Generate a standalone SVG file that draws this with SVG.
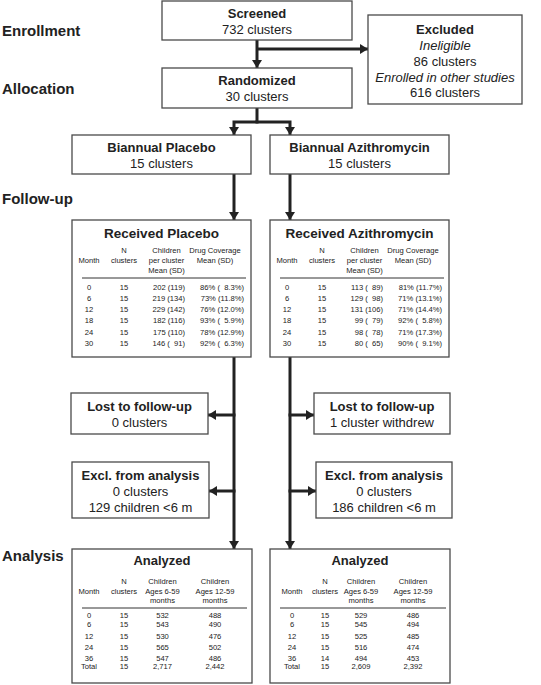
<svg xmlns="http://www.w3.org/2000/svg" width="541" height="685" viewBox="0 0 541 685">
<defs>
<marker id="ah" viewBox="0 0 8 10" refX="8" refY="5" markerWidth="8" markerHeight="10" markerUnits="userSpaceOnUse" orient="auto"><path d="M0,0 L8,5 L0,10 z" fill="#222"/></marker>
<style>
.box{fill:#fff;stroke:#4a4a4a;stroke-width:1.3}
.c{fill:none;stroke:#222;stroke-width:3;marker-end:url(#ah)}
.rule{stroke:#333;stroke-width:1}
text{font-family:"Liberation Sans",Arial,Helvetica,sans-serif;fill:#222}
.st{font-size:15px;font-weight:bold}
.h{font-size:13px;font-weight:bold;text-anchor:middle}
.n{font-size:13px;text-anchor:middle}
.i{font-style:italic}
.t{font-size:7.6px;text-anchor:middle}
.r{text-anchor:end;white-space:pre}
</style>
</defs>
<g id="stages">
<text class="st" x="2" y="36">Enrollment</text>
<text class="st" x="2" y="94">Allocation</text>
<text class="st" x="2" y="203.5">Follow-up</text>
<text class="st" x="2" y="561">Analysis</text>
</g>
<g id="connectors">
<path class="c" d="M257,40 V68"/>
<path class="c" d="M257,49 H368"/>
<path class="c" d="M257,108 V122 H234 V135"/>
<path class="c" d="M255.5,122 H290 V135"/>
<path class="c" d="M234,174 V220"/>
<path class="c" d="M290,174 V220"/>
<path class="c" d="M234,357 V549"/>
<path class="c" d="M290,357 V549"/>
<path class="c" d="M235.5,415 H208"/>
<path class="c" d="M235.5,491 H209"/>
<path class="c" d="M288.5,415 H314"/>
<path class="c" d="M288.5,491 H316"/>
</g>
<g id="screened">
<rect class="box" x="162" y="1" width="190" height="39"/>
<text class="h" x="257" y="18">Screened</text>
<text class="n" x="257" y="34">732 clusters</text>
</g>
<g id="excluded">
<rect class="box" x="368" y="15" width="154" height="89"/>
<text class="h" x="445" y="33.5">Excluded</text>
<text class="n i" x="445" y="49.5">Ineligible</text>
<text class="n" x="445" y="65.5">86 clusters</text>
<text class="n i" x="445" y="81.5">Enrolled in other studies</text>
<text class="n" x="445" y="96.5">616 clusters</text>
</g>
<g id="randomized">
<rect class="box" x="162" y="68" width="190" height="40"/>
<text class="h" x="257" y="84.5">Randomized</text>
<text class="n" x="257" y="100.5">30 clusters</text>
</g>
<g id="biannual-placebo">
<rect class="box" x="72" y="135" width="179" height="39"/>
<text class="h" x="161.5" y="151.5">Biannual Placebo</text>
<text class="n" x="161.5" y="167.5">15 clusters</text>
</g>
<g id="biannual-azithromycin">
<rect class="box" x="270" y="135" width="179" height="39"/>
<text class="h" x="359.5" y="151.5">Biannual Azithromycin</text>
<text class="n" x="359.5" y="167.5">15 clusters</text>
</g>
<g id="received-placebo">
<rect class="box" x="72" y="220" width="179" height="137"/>
<text class="h" x="161.5" y="238" style="font-size:13.5px">Received Placebo</text>
<text class="t" x="124" y="252.5">N</text>
<text class="t" x="166.5" y="252.5">Children</text>
<text class="t" x="215" y="252.5">Drug Coverage</text>
<text class="t" x="89" y="262.5">Month</text>
<text class="t" x="124" y="262.5">clusters</text>
<text class="t" x="166.5" y="262.5">per cluster</text>
<text class="t" x="215" y="262.5">Mean (SD)</text>
<text class="t" x="166.5" y="272.5">Mean (SD)</text>
<line class="rule" x1="82" y1="278" x2="246" y2="278"/>
<text class="t" x="89" y="290">0</text><text class="t" x="124" y="290">15</text><text class="t r" xml:space="preserve" x="185" y="290">202 (119)</text><text class="t r" xml:space="preserve" x="244" y="290">86% (  8.3%)</text>
<text class="t" x="89" y="301">6</text><text class="t" x="124" y="301">15</text><text class="t r" xml:space="preserve" x="185" y="301">219 (134)</text><text class="t r" xml:space="preserve" x="244" y="301">73% (11.8%)</text>
<text class="t" x="89" y="312">12</text><text class="t" x="124" y="312">15</text><text class="t r" xml:space="preserve" x="185" y="312">229 (142)</text><text class="t r" xml:space="preserve" x="244" y="312">76% (12.0%)</text>
<text class="t" x="89" y="323">18</text><text class="t" x="124" y="323">15</text><text class="t r" xml:space="preserve" x="185" y="323">182 (116)</text><text class="t r" xml:space="preserve" x="244" y="323">93% (  5.9%)</text>
<text class="t" x="89" y="334.5">24</text><text class="t" x="124" y="334.5">15</text><text class="t r" xml:space="preserve" x="185" y="334.5">175 (110)</text><text class="t r" xml:space="preserve" x="244" y="334.5">78% (12.9%)</text>
<text class="t" x="89" y="345.5">30</text><text class="t" x="124" y="345.5">15</text><text class="t r" xml:space="preserve" x="185" y="345.5">146 (  91)</text><text class="t r" xml:space="preserve" x="244" y="345.5">92% (  6.3%)</text>
</g>
<g id="received-azithromycin">
<rect class="box" x="270" y="220" width="179" height="137"/>
<text class="h" x="359.5" y="238" style="font-size:13.5px">Received Azithromycin</text>
<text class="t" x="322" y="252.5">N</text>
<text class="t" x="364.5" y="252.5">Children</text>
<text class="t" x="413" y="252.5">Drug Coverage</text>
<text class="t" x="287" y="262.5">Month</text>
<text class="t" x="322" y="262.5">clusters</text>
<text class="t" x="364.5" y="262.5">per cluster</text>
<text class="t" x="413" y="262.5">Mean (SD)</text>
<text class="t" x="364.5" y="272.5">Mean (SD)</text>
<line class="rule" x1="280" y1="278" x2="444" y2="278"/>
<text class="t" x="287" y="290">0</text><text class="t" x="322" y="290">15</text><text class="t r" xml:space="preserve" x="383" y="290">113 (  89)</text><text class="t r" xml:space="preserve" x="442" y="290">81% (11.7%)</text>
<text class="t" x="287" y="301">6</text><text class="t" x="322" y="301">15</text><text class="t r" xml:space="preserve" x="383" y="301">129 (  98)</text><text class="t r" xml:space="preserve" x="442" y="301">71% (13.1%)</text>
<text class="t" x="287" y="312">12</text><text class="t" x="322" y="312">15</text><text class="t r" xml:space="preserve" x="383" y="312">131 (106)</text><text class="t r" xml:space="preserve" x="442" y="312">71% (14.4%)</text>
<text class="t" x="287" y="323">18</text><text class="t" x="322" y="323">15</text><text class="t r" xml:space="preserve" x="383" y="323">99 (  79)</text><text class="t r" xml:space="preserve" x="442" y="323">92% (  5.8%)</text>
<text class="t" x="287" y="334.5">24</text><text class="t" x="322" y="334.5">15</text><text class="t r" xml:space="preserve" x="383" y="334.5">98 (  78)</text><text class="t r" xml:space="preserve" x="442" y="334.5">71% (17.3%)</text>
<text class="t" x="287" y="345.5">30</text><text class="t" x="322" y="345.5">15</text><text class="t r" xml:space="preserve" x="383" y="345.5">80 (  65)</text><text class="t r" xml:space="preserve" x="442" y="345.5">90% (  9.1%)</text>
</g>
<g id="lost-placebo">
<rect class="box" x="71" y="393" width="137" height="41"/>
<text class="h" x="139.5" y="410.5">Lost to follow-up</text>
<text class="n" x="139.5" y="426.5">0 clusters</text>
</g>
<g id="lost-azithromycin">
<rect class="box" x="314" y="393" width="136" height="41"/>
<text class="h" x="382" y="410.5">Lost to follow-up</text>
<text class="n" x="382" y="426.5">1 cluster withdrew</text>
</g>
<g id="excl-placebo">
<rect class="box" x="72" y="462" width="137" height="56"/>
<text class="h" x="140.5" y="479.5">Excl. from analysis</text>
<text class="n" x="140.5" y="495.5">0 clusters</text>
<text class="n" x="140.5" y="511.5">129 children &lt;6 m</text>
</g>
<g id="excl-azithromycin">
<rect class="box" x="316" y="462" width="136" height="56"/>
<text class="h" x="384" y="479.5">Excl. from analysis</text>
<text class="n" x="384" y="495.5">0 clusters</text>
<text class="n" x="384" y="511.5">186 children &lt;6 m</text>
</g>
<g id="analyzed-placebo">
<rect class="box" x="72" y="549" width="180" height="134"/>
<text class="h" x="162" y="565">Analyzed</text>
<text class="t" x="124" y="583.5">N</text>
<text class="t" x="162.5" y="583.5">Children</text>
<text class="t" x="215" y="583.5">Children</text>
<text class="t" x="89" y="593.5">Month</text>
<text class="t" x="124" y="593.5">clusters</text>
<text class="t" x="162.5" y="593.5">Ages 6-59</text>
<text class="t" x="215" y="593.5">Ages 12-59</text>
<text class="t" x="162.5" y="603">months</text>
<text class="t" x="215" y="603">months</text>
<line class="rule" x1="82" y1="608" x2="247" y2="608"/>
<text class="t" x="89" y="617.5">0</text><text class="t" x="124" y="617.5">15</text><text class="t" x="162.5" y="617.5">532</text><text class="t" x="215" y="617.5">488</text>
<text class="t" x="89" y="626.5">6</text><text class="t" x="124" y="626.5">15</text><text class="t" x="162.5" y="626.5">543</text><text class="t" x="215" y="626.5">490</text>
<text class="t" x="89" y="638.5">12</text><text class="t" x="124" y="638.5">15</text><text class="t" x="162.5" y="638.5">530</text><text class="t" x="215" y="638.5">476</text>
<text class="t" x="89" y="650">24</text><text class="t" x="124" y="650">15</text><text class="t" x="162.5" y="650">565</text><text class="t" x="215" y="650">502</text>
<text class="t" x="89" y="660.5">36</text><text class="t" x="124" y="660.5">15</text><text class="t" x="162.5" y="660.5">547</text><text class="t" x="215" y="660.5">486</text>
<text class="t" x="89" y="668.5">Total</text><text class="t" x="124" y="668.5">15</text><text class="t" x="162.5" y="668.5">2,717</text><text class="t" x="215" y="668.5">2,442</text>
</g>
<g id="analyzed-azithromycin">
<rect class="box" x="270" y="549" width="180" height="134"/>
<text class="h" x="360" y="565">Analyzed</text>
<text class="t" x="325" y="583.5">N</text>
<text class="t" x="361" y="583.5">Children</text>
<text class="t" x="413" y="583.5">Children</text>
<text class="t" x="292" y="593.5">Month</text>
<text class="t" x="325" y="593.5">clusters</text>
<text class="t" x="361" y="593.5">Ages 6-59</text>
<text class="t" x="413" y="593.5">Ages 12-59</text>
<text class="t" x="361" y="603">months</text>
<text class="t" x="413" y="603">months</text>
<line class="rule" x1="280" y1="608" x2="446" y2="608"/>
<text class="t" x="292" y="617.5">0</text><text class="t" x="325" y="617.5">15</text><text class="t" x="361" y="617.5">529</text><text class="t" x="413" y="617.5">486</text>
<text class="t" x="292" y="626.5">6</text><text class="t" x="325" y="626.5">15</text><text class="t" x="361" y="626.5">545</text><text class="t" x="413" y="626.5">494</text>
<text class="t" x="292" y="638.5">12</text><text class="t" x="325" y="638.5">15</text><text class="t" x="361" y="638.5">525</text><text class="t" x="413" y="638.5">485</text>
<text class="t" x="292" y="650">24</text><text class="t" x="325" y="650">15</text><text class="t" x="361" y="650">516</text><text class="t" x="413" y="650">474</text>
<text class="t" x="292" y="660.5">36</text><text class="t" x="325" y="660.5">14</text><text class="t" x="361" y="660.5">494</text><text class="t" x="413" y="660.5">453</text>
<text class="t" x="292" y="668.5">Total</text><text class="t" x="325" y="668.5">15</text><text class="t" x="361" y="668.5">2,609</text><text class="t" x="413" y="668.5">2,392</text>
</g>
</svg>
